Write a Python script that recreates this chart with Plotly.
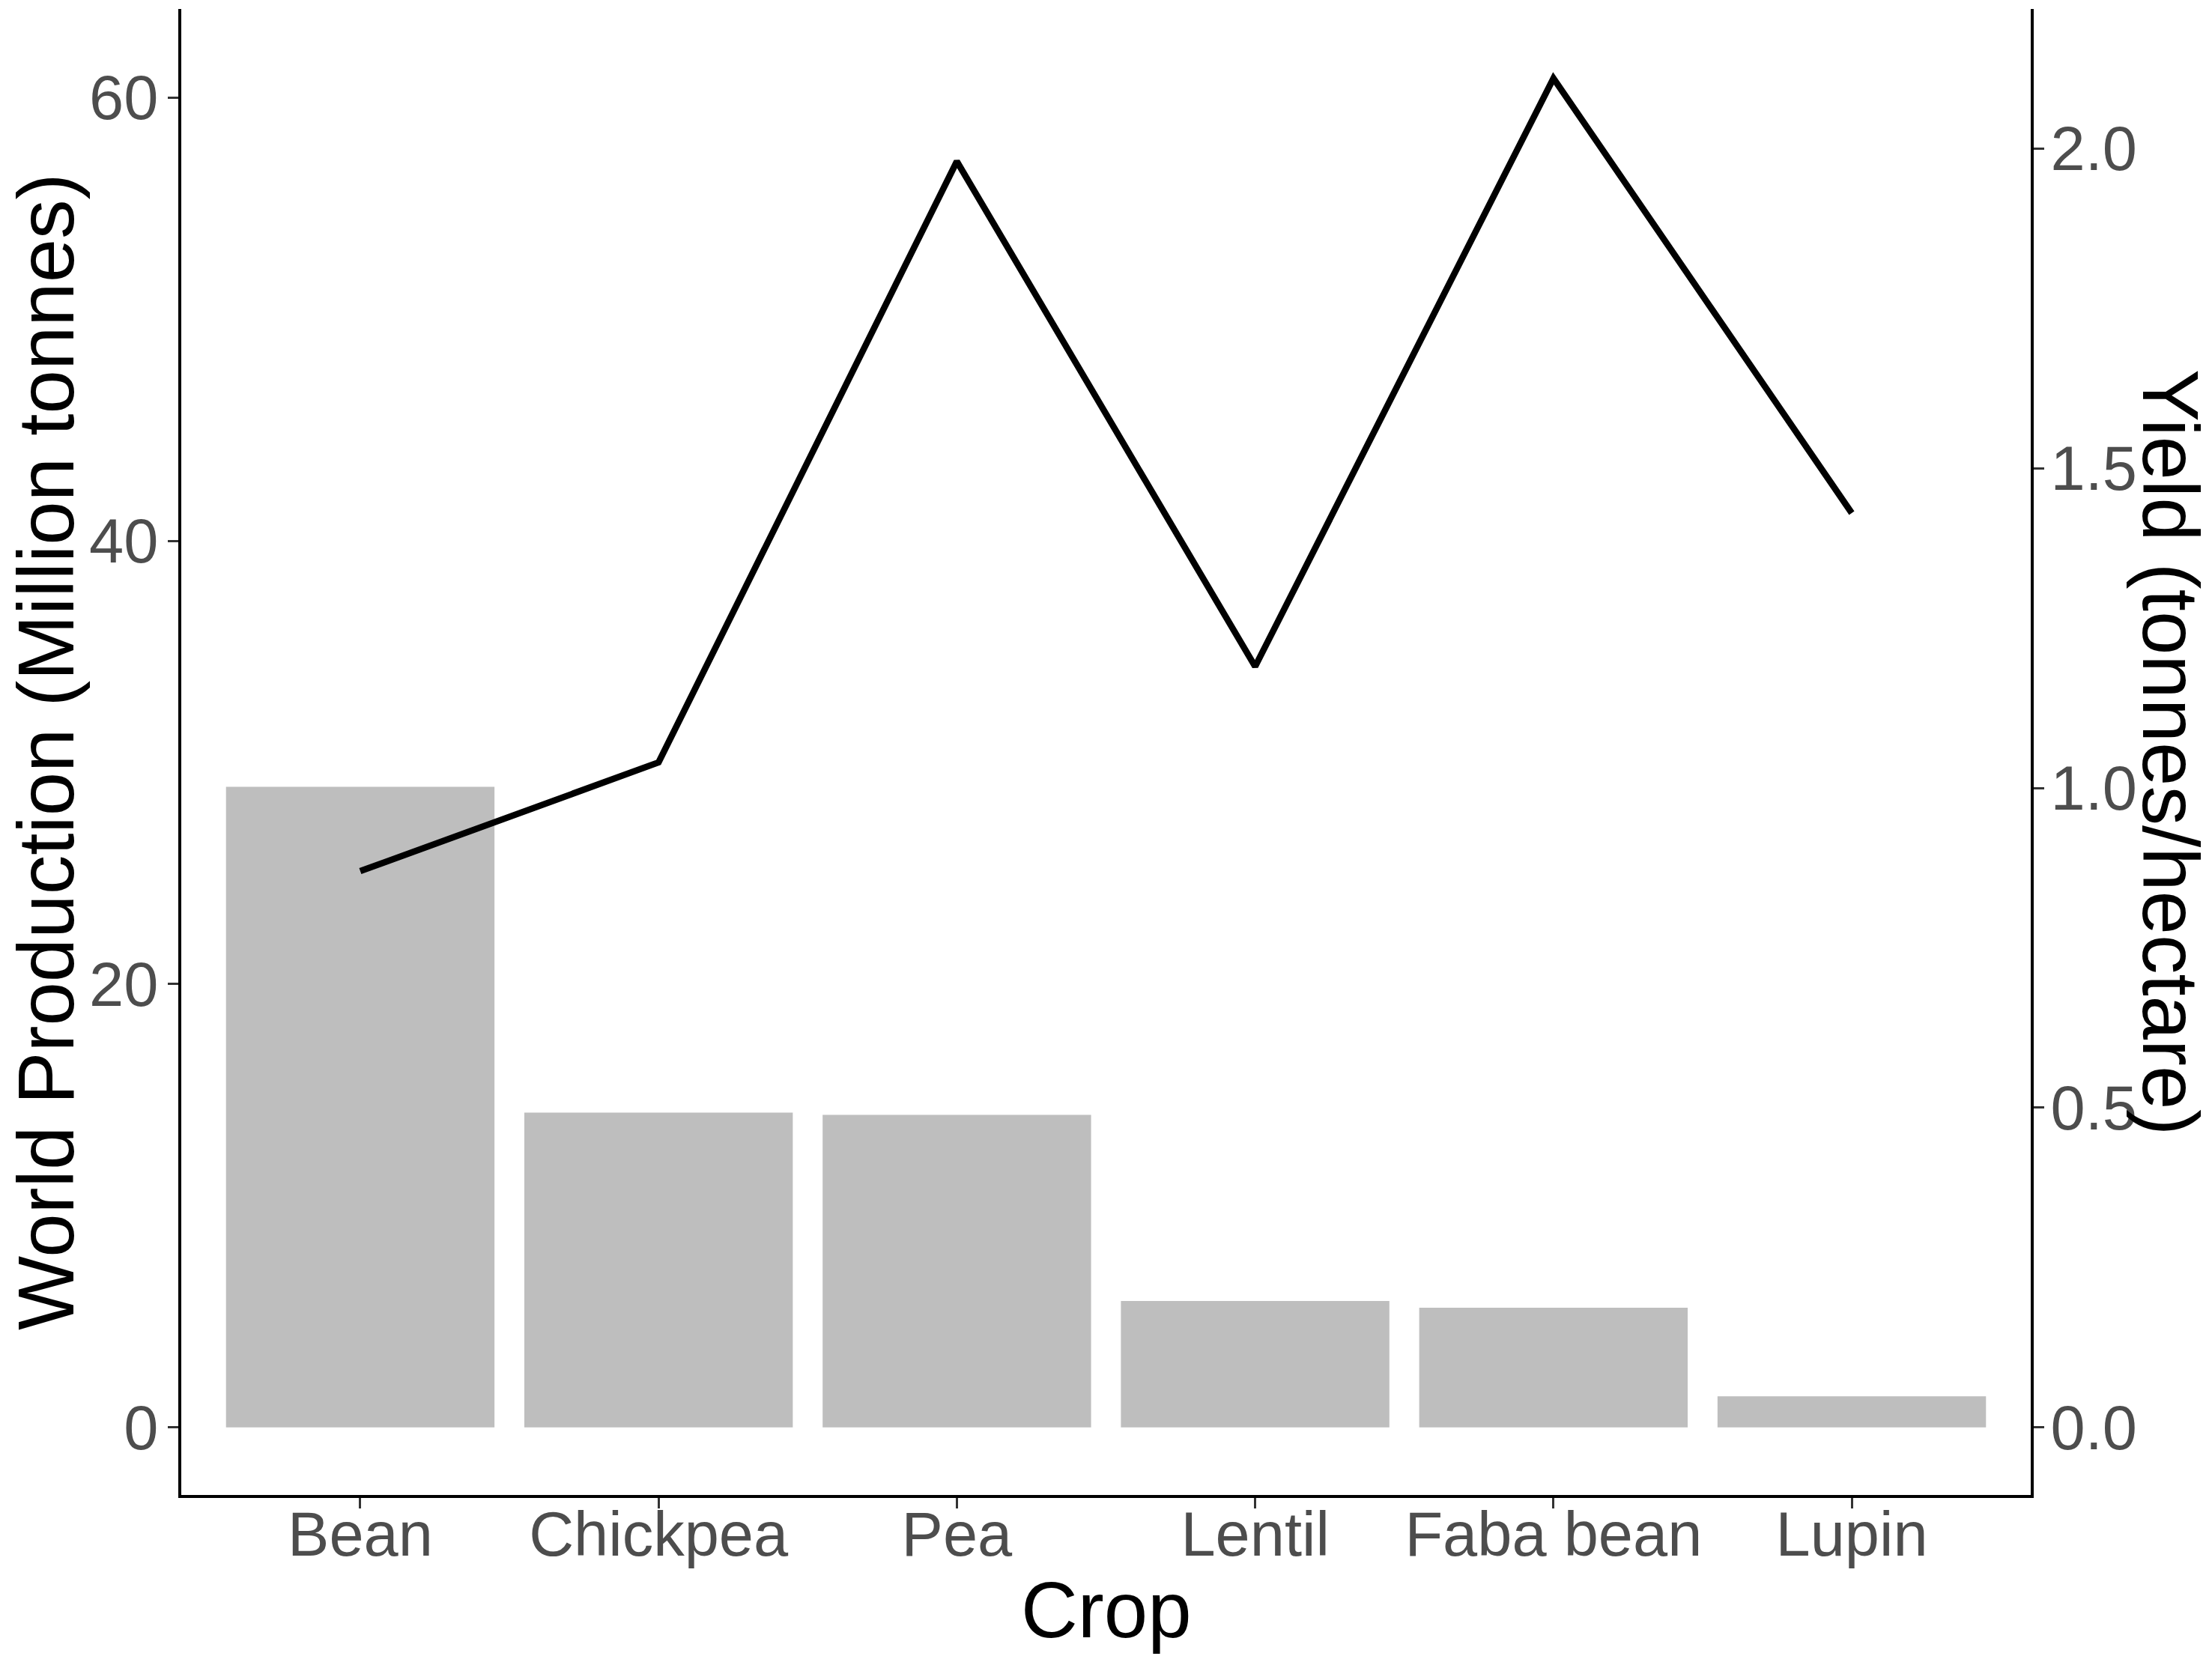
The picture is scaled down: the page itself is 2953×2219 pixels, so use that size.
import plotly.graph_objects as go

crops = ["Bean", "Chickpea", "Pea", "Lentil", "Faba bean", "Lupin"]
production = [28.9, 14.2, 14.1, 5.7, 5.4, 1.4]          # Million tonnes
yield_t = [0.87, 1.04, 1.98, 1.19, 2.11, 1.43]          # tonnes/hectare

left_ticks = [0, 20, 40, 60]
right_ticks = [0.0, 0.5, 1.0, 1.5, 2.0]

W, H = 2953, 2219
ML, MR, MT, MB = 234, 250, 4, 231

scale = 28.85  # secondary axis scale factor
left_range = [-3.05, 64.0]
right_range = [left_range[0] / scale, left_range[1] / scale]

FONT = "Liberation Sans, Arial, sans-serif"
TICKFONT = dict(family=FONT, size=83, color="#4D4D4D")

fig = go.Figure()
fig.add_trace(go.Bar(
    x=crops, y=production, marker=dict(color="#BEBEBE", line=dict(width=0)),
    width=0.9, yaxis="y", showlegend=False, hoverinfo="skip"))
fig.add_trace(go.Scatter(
    x=crops, y=yield_t, mode="lines", line=dict(color="black", width=8.5),
    yaxis="y2", showlegend=False, hoverinfo="skip"))

fig.update_layout(
    width=W, height=H,
    margin=dict(l=ML, r=MR, t=MT, b=MB, pad=0),
    paper_bgcolor="white", plot_bgcolor="white",
    bargap=0.1,
    xaxis=dict(
        type="category", range=[-0.6, 5.6], showgrid=False, zeroline=False,
        showline=True, linecolor="black", linewidth=4,
        ticks="outside", ticklen=14, tickwidth=3, tickcolor="#333333",
        tickfont=TICKFONT, ticklabelstandoff=-37),
    yaxis=dict(
        range=left_range, tickvals=left_ticks, showgrid=False, zeroline=False,
        showline=True, linecolor="black", linewidth=4,
        ticks="outside", ticklen=14, tickwidth=3, tickcolor="#333333",
        tickfont=TICKFONT, ticklabelstandoff=-4),
    yaxis2=dict(
        range=right_range, tickvals=right_ticks, tickformat=".1f",
        overlaying="y", side="right", anchor="x",
        showgrid=False, zeroline=False,
        showline=True, linecolor="black", linewidth=4,
        ticks="outside", ticklen=14, tickwidth=3, tickcolor="#333333",
        tickfont=TICKFONT, ticklabelstandoff=-8),
    annotations=[
        dict(text="Crop", xref="paper", yref="paper", x=0.5, y=0,
             xanchor="center", yanchor="top", yshift=-93, showarrow=False,
             font=dict(family=FONT, size=105, color="black")),
        dict(text="World Production (Million tonnes)", xref="paper", yref="paper",
             x=0, y=0.5, xanchor="center", yanchor="middle", xshift=-181,
             textangle=-90, showarrow=False, borderpad=0,
             font=dict(family=FONT, size=105, color="black")),
        dict(text="Yield (tonnes/hectare)", xref="paper", yref="paper",
             x=1, y=0.5, xanchor="center", yanchor="middle", xshift=187,
             textangle=90, showarrow=False,
             font=dict(family=FONT, size=105, color="black")),
    ],
)

fig.write_html("out.html")
